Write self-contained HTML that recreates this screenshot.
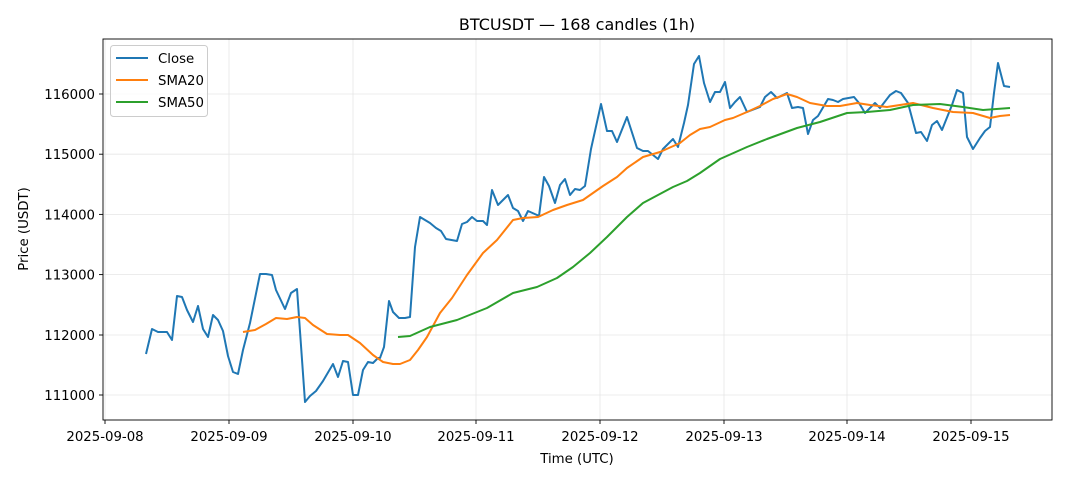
<!DOCTYPE html>
<html><head><meta charset="utf-8"><style>
body{margin:0;background:#fff}
svg text{font-family:"DejaVu Sans","Liberation Sans",sans-serif;fill:#000}
</style></head><body>
<svg width="1068" height="481" xmlns="http://www.w3.org/2000/svg">
<rect width="1068" height="481" fill="#fff"/>
<g stroke="#e6e6e6" stroke-width="0.8">
<line x1="105" y1="39" x2="105" y2="420"/><line x1="229" y1="39" x2="229" y2="420"/><line x1="353" y1="39" x2="353" y2="420"/><line x1="476" y1="39" x2="476" y2="420"/><line x1="600" y1="39" x2="600" y2="420"/><line x1="724" y1="39" x2="724" y2="420"/><line x1="847" y1="39" x2="847" y2="420"/><line x1="971" y1="39" x2="971" y2="420"/>
<line x1="103" y1="395" x2="1052" y2="395"/><line x1="103" y1="335" x2="1052" y2="335"/><line x1="103" y1="274.6" x2="1052" y2="274.6"/><line x1="103" y1="214.4" x2="1052" y2="214.4"/><line x1="103" y1="154.2" x2="1052" y2="154.2"/><line x1="103" y1="94" x2="1052" y2="94"/>
</g>
<g fill="none" stroke-width="2" stroke-linejoin="round">
<polyline stroke="#1f77b4" points="146,354 152,329 158,332 164,332 167,332 172,340 177,296 182,297 187,310 193,322 198,306 203,329 208,337 213,315 218,320 223,331 228,356 233,372 238,374 243,350 250,323 260,274 266,274 272,275 276,290 285,309 291,293 297,289 305,402 310,396 316,391 323,381 333,364 338,377 343,361 348,362 353,395 358,395 363,370 368,362 373,363 378,358 380,358 384,347 389,301 393,312 399,318 405,318 410,317 415,247 420,217 430,223 436,228 441,231 446,239 457,241 462,224 467,222 472,217 477,221 483,221 487,225 492,190 498,205 508,195 513,208 518,211 523,221 528,211 537,215 539,216 544,177 549,186 555,203 560,185 565,179 570,195 575,189 580,190 585,186 591,149 601,104 607,131 612,131 617,142 627,117 637,148 643,151 648,151 658,159 663,149 673,139 678,147 684,123 688,105 694,64 699,56 704,83 710,102 715,92 720,92 725,82 730,108 735,102 740,97 747,112 760,107 765,97 771,92 777,98 787,93 792,108 798,107 803,108 808,134 813,120 818,116 828,99 833,100 838,102 843,99 854,97 859,103 865,113 875,103 880,108 890,95 896,91 901,93 908,103 916,133 921,132 927,141 932,125 937,121 942,130 952,105 957,90 963,93 967,137 973,149 980,138 985,131 990,127 994,93 998,63 1004,86 1010,87"/>
<polyline stroke="#ff7f0e" points="243,332 255,330 266,324 276,318 287,319 297,317 305,318 313,325 327,334 340,335 348,335 360,343 373,355 383,362 393,364 400,364 410,360 418,350 427,337 440,313 452,298 467,275 483,253 497,240 513,220 523,218 538,217 553,210 567,205 583,200 593,193 603,186 617,177 627,168 643,157 660,152 680,143 690,135 700,129 710,127 725,120 733,118 747,112 760,106 773,99 787,94 797,97 810,103 827,106 840,106 857,103 870,105 887,107 913,103 933,108 953,112 973,113 990,118 1000,116 1010,115"/>
<polyline stroke="#2ca02c" points="398,337 410,336 430,327 457,320 487,308 513,293 537,287 557,278 573,267 590,253 607,237 627,217 643,203 673,187 687,181 700,173 720,159 747,147 767,139 797,128 820,122 847,113 867,112 890,110 913,105 940,104 963,107 983,110 1010,108"/>
</g>
<rect x="103" y="39" width="949" height="381" fill="none" stroke="#000" stroke-width="0.9"/>
<g stroke="#000" stroke-width="0.9">
<line x1="105" y1="420" x2="105" y2="424"/><line x1="229" y1="420" x2="229" y2="424"/><line x1="353" y1="420" x2="353" y2="424"/><line x1="476" y1="420" x2="476" y2="424"/><line x1="600" y1="420" x2="600" y2="424"/><line x1="724" y1="420" x2="724" y2="424"/><line x1="847" y1="420" x2="847" y2="424"/><line x1="971" y1="420" x2="971" y2="424"/>
<line x1="99" y1="395" x2="103" y2="395"/><line x1="99" y1="335" x2="103" y2="335"/><line x1="99" y1="274.6" x2="103" y2="274.6"/><line x1="99" y1="214.4" x2="103" y2="214.4"/><line x1="99" y1="154.2" x2="103" y2="154.2"/><line x1="99" y1="94" x2="103" y2="94"/>
</g>
<g font-size="13.3" text-anchor="middle">
<text x="105" y="441">2025-09-08</text><text x="229" y="441">2025-09-09</text><text x="353" y="441">2025-09-10</text><text x="476" y="441">2025-09-11</text><text x="600" y="441">2025-09-12</text><text x="724" y="441">2025-09-13</text><text x="847" y="441">2025-09-14</text><text x="971" y="441">2025-09-15</text>
</g>
<g font-size="13.3" text-anchor="end">
<text x="95" y="400">111000</text><text x="95" y="340">112000</text><text x="95" y="279.5">113000</text><text x="95" y="219.3">114000</text><text x="95" y="159.1">115000</text><text x="95" y="99">116000</text>
</g>
<text x="577" y="463" font-size="13.3" text-anchor="middle">Time (UTC)</text>
<text transform="translate(28,229) rotate(-90)" font-size="13.3" text-anchor="middle">Price (USDT)</text>
<text x="577" y="30" font-size="16" text-anchor="middle">BTCUSDT — 168 candles (1h)</text>
<rect x="110.5" y="45.5" width="97" height="71" rx="3" fill="#fff" fill-opacity="0.8" stroke="#ccc"/>
<line x1="116" y1="58" x2="148" y2="58" stroke="#1f77b4" stroke-width="2"/>
<line x1="116" y1="80" x2="148" y2="80" stroke="#ff7f0e" stroke-width="2"/>
<line x1="116" y1="102" x2="148" y2="102" stroke="#2ca02c" stroke-width="2"/>
<g font-size="13.3"><text x="158" y="63">Close</text><text x="158" y="85">SMA20</text><text x="158" y="107">SMA50</text></g>
</svg>
</body></html>
